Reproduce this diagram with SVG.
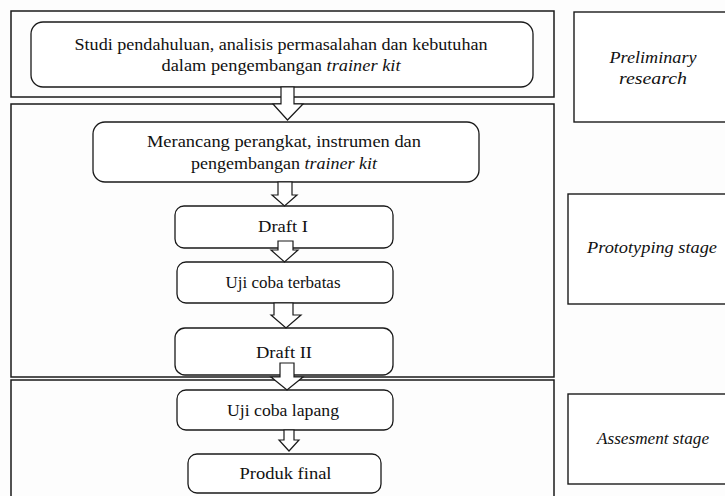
<svg xmlns="http://www.w3.org/2000/svg" width="725" height="496" viewBox="0 0 725 496">
<style>
.frame{fill:none;stroke:#1a1a1a;stroke-width:1.5}
.box{fill:#fff;stroke:#1a1a1a;stroke-width:1.3}
.side{fill:#fff;stroke:#1a1a1a;stroke-width:1.4}
.arrow{fill:#fff;stroke:#1a1a1a;stroke-width:1.2;stroke-linejoin:miter}
text{font-family:"Liberation Serif","Times New Roman",serif;font-size:16px;fill:#111;text-anchor:middle}
.it{font-style:italic}
</style>
<rect width="725" height="496" fill="#fdfdfd"/>
<g id="stage-preliminary-frame"><rect class="frame" x="11" y="11" width="543" height="86"/></g>
<g id="stage-prototyping-frame"><rect class="frame" x="11" y="104" width="543" height="273"/></g>
<g id="stage-assessment-frame"><rect class="frame" x="11" y="380" width="543" height="130"/></g>

<g id="node-studi">
<rect class="box" x="31" y="22" width="502" height="65" rx="12"/>
<text x="281" y="50" textLength="413" lengthAdjust="spacingAndGlyphs">Studi pendahuluan, analisis permasalahan dan kebutuhan</text>
<text x="281" y="71" textLength="239" lengthAdjust="spacingAndGlyphs">dalam pengembangan <tspan class="it">trainer kit</tspan></text>
</g>
<g id="node-merancang">
<rect class="box" x="93" y="122" width="386" height="60" rx="12"/>
<text x="284" y="147" textLength="274" lengthAdjust="spacingAndGlyphs">Merancang perangkat, instrumen dan</text>
<text x="284" y="169" textLength="186" lengthAdjust="spacingAndGlyphs">pengembangan <tspan class="it">trainer kit</tspan></text>
</g>
<g id="node-draft1">
<rect class="box" x="175" y="206" width="218" height="42" rx="9"/>
<text x="283" y="232" textLength="50" lengthAdjust="spacingAndGlyphs">Draft I</text>
</g>
<g id="node-uji-terbatas">
<rect class="box" x="177" y="262" width="216" height="41" rx="9"/>
<text x="283" y="288" textLength="115" lengthAdjust="spacingAndGlyphs">Uji coba terbatas</text>
</g>
<g id="node-draft2">
<rect class="box" x="175" y="328" width="218" height="47" rx="10"/>
<text x="284" y="358" textLength="56" lengthAdjust="spacingAndGlyphs">Draft II</text>
</g>
<g id="node-uji-lapang">
<rect class="box" x="177" y="390" width="216" height="40" rx="9"/>
<text x="283" y="416" textLength="112" lengthAdjust="spacingAndGlyphs">Uji coba lapang</text>
</g>
<g id="node-produk">
<rect class="box" x="188" y="454" width="193" height="39" rx="9"/>
<text x="285.5" y="479" textLength="92" lengthAdjust="spacingAndGlyphs">Produk final</text>
</g>

<g id="label-preliminary">
<rect class="side" x="574" y="12" width="160" height="110"/>
<text class="it" x="653" y="63" textLength="87" lengthAdjust="spacingAndGlyphs">Preliminary</text>
<text class="it" x="653" y="84" textLength="68" lengthAdjust="spacingAndGlyphs">research</text>
</g>
<g id="label-prototyping">
<rect class="side" x="568" y="194" width="166" height="110"/>
<text class="it" x="652" y="253" textLength="130" lengthAdjust="spacingAndGlyphs">Prototyping stage</text>
</g>
<g id="label-assessment">
<rect class="side" x="568" y="394" width="166" height="90"/>
<text class="it" x="653" y="444" textLength="112" lengthAdjust="spacingAndGlyphs">Assesment stage</text>
</g>

<g id="connectors">
<polygon class="arrow" points="281,87 294,87 294,104 303,104 287.5,120 273,104 281,104"/>
<polygon class="arrow" points="278,182 292,182 292,195 297,195 284.5,206 272,195 278,195"/>
<polygon class="arrow" points="278,241 293,241 293,250 298,250 284.5,262 271,250 278,250"/>
<polygon class="arrow" points="274,303 293,303 293,315 301,315 286,328 271,315 274,315"/>
<polygon class="arrow" points="280,363 294,363 294,377 303,377 287,390 271,377 280,377"/>
<polygon class="arrow" points="284,430 294,430 294,440 299,440 289,451 279,440 284,440"/>
</g>
</svg>
